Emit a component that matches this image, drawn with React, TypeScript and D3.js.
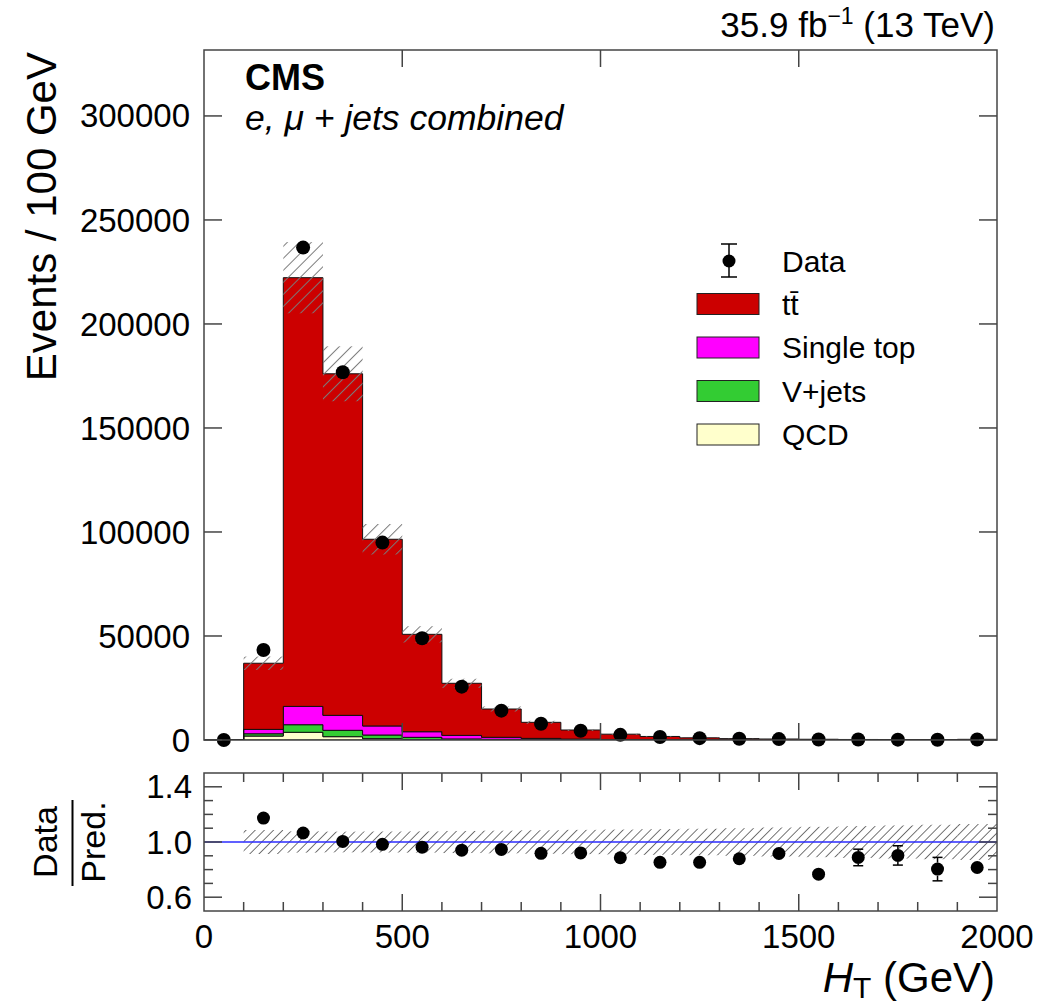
import React from "react";
import * as d3 from "d3";

// H_T bins, 100 GeV wide (lower edges)
const binLow = [0, 100, 200, 300, 400, 500, 600, 700, 800, 900, 1000, 1100, 1200, 1300, 1400, 1500, 1600, 1700, 1800, 1900];

// events / 100 GeV
const dataCounts = [0, 43300, 236700, 176800, 94900, 48900, 25640, 14100, 7800, 4420, 2480, 1450, 895, 580, 440, 276, 222, 167, 90, 269];
const ttbar = [0, 31800, 206100, 164200, 89750, 46820, 25040, 13600, 7730, 4365, 2547, 1547, 955, 599, 442, 332, 229, 170, 102, 302];
const singleTop = [0, 2100, 8800, 7200, 4350, 2700, 1700, 1000, 600, 340, 200, 120, 75, 48, 30, 22, 16, 12, 8, 22];
const vJets = [0, 1100, 3650, 3050, 1750, 1080, 420, 250, 140, 80, 45, 28, 17, 11, 7, 5, 4, 3, 2, 5];
const qcd = [0, 1900, 3700, 1600, 650, 200, 100, 50, 30, 15, 8, 5, 3, 2, 1, 1, 1, 0, 0, 1];

// relative uncertainty of the prediction, and data/pred. stat. error
const mcRelUnc = [0, 0.087, 0.077, 0.075, 0.076, 0.077, 0.08, 0.082, 0.085, 0.088, 0.09, 0.093, 0.096, 0.1, 0.105, 0.11, 0.115, 0.12, 0.125, 0.13];
const ratioErr = [0, 0.01, 0.005, 0.005, 0.005, 0.006, 0.008, 0.01, 0.013, 0.016, 0.02, 0.025, 0.03, 0.03, 0.035, 0.035, 0.06, 0.07, 0.085, 0.05];

const yTickValues = [0, 50000, 100000, 150000, 200000, 250000, 300000];
const xTickValues = [0, 500, 1000, 1500, 2000];
const ratioTickValues = [0.6, 1.0, 1.4];

const legendItems = [
  { label: "tt\u0304", color: "#cc0000" },
  { label: "Single top", color: "#ff00ff" },
  { label: "V+jets", color: "#33cc33" },
  { label: "QCD", color: "#ffffcc" },
];

const layerKeys = ["qcd", "vjets", "singletop", "ttbar"];
const layerColors: Record<string, string> = {
  qcd: "#ffffcc",
  vjets: "#33cc33",
  singletop: "#ff00ff",
  ttbar: "#cc0000",
};

const FONT = "'Liberation Sans', Arial, Helvetica, sans-serif";
const FRAME = "#444";

export default function App() {
  const W = 1040;
  const H = 1006;
  const left = 204, right = 997;
  const topY0 = 50, topY1 = 740;
  const rY0 = 773, rY1 = 911;
  const binW = 100;

  const x = d3.scaleLinear().domain([0, 2000]).range([left, right]);
  const y = d3.scaleLinear().domain([0, 331700]).range([topY1, topY0]);
  const yr = d3.scaleLinear().domain([0.5, 1.5]).range([rY1, rY0]);

  const rows = binLow.map((lo, i) => ({
    lo,
    qcd: qcd[i],
    vjets: vJets[i],
    singletop: singleTop[i],
    ttbar: ttbar[i],
  }));
  const total = rows.map((r) => r.qcd + r.vjets + r.singletop + r.ttbar);
  const series = d3.stack<any>().keys(layerKeys)(rows);

  const area = d3
    .area<any>()
    .x((p) => x(p.x))
    .y0((p) => y(p.y0))
    .y1((p) => y(p.y1));

  const layerPath = (s: any) =>
    area(
      s.flatMap((d: any) => [
        { x: d.data.lo, y0: d[0], y1: d[1] },
        { x: d.data.lo + binW, y0: d[0], y1: d[1] },
      ])
    );

  const yMinor = d3.range(0.6, 1.41, 0.1);
  const xMinor = d3.range(100, 2000, 100);
  const isMajorX = (v: number) => Math.abs(v % 500) < 1e-6;
  const isMajorR = (v: number) => ratioTickValues.some((t) => Math.abs(t - v) < 1e-6);

  const rTop = 7;
  const rRatio = 6.5;

  const errBar = (cx: number, cy: number, errPx: number, r: number, key: string) => {
    if (errPx <= r + 0.5) return null;
    return (
      <g key={key} stroke="#000" strokeWidth={1.5}>
        <line x1={cx} x2={cx} y1={cy - errPx} y2={cy - r} />
        <line x1={cx} x2={cx} y1={cy + r} y2={cy + errPx} />
        <line x1={cx - 5} x2={cx + 5} y1={cy - errPx} y2={cy - errPx} />
        <line x1={cx - 5} x2={cx + 5} y1={cy + errPx} y2={cy + errPx} />
      </g>
    );
  };

  return (
    <svg
      width={W}
      height={H}
      style={{ position: "absolute", left: 0, top: 0, display: "block", background: "#fff" }}
      fontFamily={FONT}
    >
      <defs>
        <pattern id="hatchTop" patternUnits="userSpaceOnUse" width={8.5} height={8.5} patternTransform="rotate(45)">
          <line x1={0} y1={0} x2={0} y2={8.5} stroke="#7a7a7a" strokeWidth={2} />
        </pattern>
        <pattern id="hatchRatio" patternUnits="userSpaceOnUse" width={6.5} height={6.5} patternTransform="rotate(45)">
          <line x1={0} y1={0} x2={0} y2={6.5} stroke="#666" strokeWidth={1.8} />
        </pattern>
        <clipPath id="clipTop">
          <rect x={left} y={topY0} width={right - left} height={topY1 - topY0} />
        </clipPath>
        <clipPath id="clipRatio">
          <rect x={left} y={rY0} width={right - left} height={rY1 - rY0} />
        </clipPath>
      </defs>

      {/* ---------- top panel ---------- */}
      <g clipPath="url(#clipTop)">
        {series.map((s: any) => (
          <path key={s.key} d={layerPath(s) || ""} fill={layerColors[s.key]} stroke="#111" strokeWidth={1} />
        ))}
        {binLow.map((lo, i) =>
          total[i] > 0 ? (
            <rect
              key={"u" + i}
              x={x(lo)}
              width={x(lo + binW) - x(lo)}
              y={y(total[i] * (1 + mcRelUnc[i]))}
              height={y(total[i] * (1 - mcRelUnc[i])) - y(total[i] * (1 + mcRelUnc[i]))}
              fill="url(#hatchTop)"
            />
          ) : null
        )}
      </g>
      {binLow.map((lo, i) => {
        const cx = x(lo + binW / 2);
        const cy = y(dataCounts[i]);
        const errPx = y(0) - y(ratioErr[i] * total[i]);
        return (
          <g key={"d" + i}>
            {errBar(cx, cy, errPx, rTop, "e" + i)}
            <circle cx={cx} cy={cy} r={rTop} fill="#000" />
          </g>
        );
      })}

      {/* frame + ticks (top) */}
      <rect x={left} y={topY0} width={right - left} height={topY1 - topY0} fill="none" stroke={FRAME} strokeWidth={1.5} />
      <g stroke={FRAME} strokeWidth={1.5}>
        {yTickValues.map((v) => (
          <g key={"yt" + v}>
            <line x1={left} x2={left + 18} y1={y(v)} y2={y(v)} />
            <line x1={right - 18} x2={right} y1={y(v)} y2={y(v)} />
          </g>
        ))}
        {xTickValues.slice(1, -1).map((v) => (
          <g key={"xt" + v}>
            <line x1={x(v)} x2={x(v)} y1={topY1} y2={topY1 - 17} />
            <line x1={x(v)} x2={x(v)} y1={topY0} y2={topY0 + 17} />
          </g>
        ))}
      </g>
      <g fontSize={33} textAnchor="end" fill="#000">
        {yTickValues.map((v) => (
          <text key={"yl" + v} x={190} y={y(v)} dy="0.35em">
            {v}
          </text>
        ))}
      </g>

      <text x={56} y={52} transform="rotate(-90 56 52)" textAnchor="end" fontSize={42} fill="#000">
        Events / 100 GeV
      </text>

      <text x={995} y={37} textAnchor="end" fontSize={35} fill="#000">
        35.9 fb
        <tspan fontSize={23} dy={-13}>
          −1
        </tspan>
        <tspan dy={13}> (13 TeV)</tspan>
      </text>

      <text x={245} y={90} fontSize={36} fontWeight="bold" fill="#000">
        CMS
      </text>
      <text x={245} y={130} fontSize={35.5} fontStyle="italic" fill="#000">
        e, μ + jets combined
      </text>

      {/* legend */}
      <g>
        <g stroke="#000" strokeWidth={1.5}>
          <line x1={729} x2={729} y1={244} y2={277} />
          <line x1={721} x2={737} y1={244} y2={244} />
          <line x1={721} x2={737} y1={277} y2={277} />
        </g>
        <circle cx={729} cy={261} r={6.5} fill="#000" />
        <text x={782} y={261} dy="0.35em" fontSize={30} fill="#000">
          Data
        </text>
        {legendItems.map((it, i) => {
          const cy = 304 + i * 43.5;
          return (
            <g key={it.label}>
              <rect x={697} y={cy - 10.5} width={62} height={21} fill={it.color} stroke="#222" strokeWidth={1} />
              <text x={782} y={cy} dy="0.35em" fontSize={30} fill="#000">
                {it.label}
              </text>
            </g>
          );
        })}
      </g>

      {/* ---------- ratio panel ---------- */}
      <g clipPath="url(#clipRatio)">
        {binLow.map((lo, i) =>
          total[i] > 0 ? (
            <rect
              key={"ru" + i}
              x={x(lo)}
              width={x(lo + binW) - x(lo)}
              y={yr(1 + mcRelUnc[i])}
              height={yr(1 - mcRelUnc[i]) - yr(1 + mcRelUnc[i])}
              fill="url(#hatchRatio)"
            />
          ) : null
        )}
        <line x1={left} x2={right} y1={yr(1)} y2={yr(1)} stroke="#2b2bff" strokeWidth={1.3} />
      </g>
      {binLow.map((lo, i) => {
        if (total[i] <= 0) return null;
        const cx = x(lo + binW / 2);
        const ratio = dataCounts[i] / total[i];
        const cy = yr(ratio);
        const errPx = yr(1) - yr(1 + ratioErr[i]);
        return (
          <g key={"r" + i}>
            {errBar(cx, cy, errPx, rRatio, "re" + i)}
            <circle cx={cx} cy={cy} r={rRatio} fill="#000" />
          </g>
        );
      })}

      <rect x={left} y={rY0} width={right - left} height={rY1 - rY0} fill="none" stroke={FRAME} strokeWidth={1.5} />
      <g stroke={FRAME} strokeWidth={1.5}>
        {xMinor.map((v) => {
          const len = isMajorX(v) ? 17 : 9;
          return (
            <g key={"rx" + v}>
              <line x1={x(v)} x2={x(v)} y1={rY1} y2={rY1 - len} />
              <line x1={x(v)} x2={x(v)} y1={rY0} y2={rY0 + len} />
            </g>
          );
        })}
        {yMinor.map((v) => {
          const len = isMajorR(v) ? 18 : 9;
          return (
            <g key={"ry" + v.toFixed(1)}>
              <line x1={left} x2={left + len} y1={yr(v)} y2={yr(v)} />
              <line x1={right - len} x2={right} y1={yr(v)} y2={yr(v)} />
            </g>
          );
        })}
      </g>
      <g fontSize={33} fill="#000">
        {ratioTickValues.map((v) => (
          <text key={"rl" + v} x={192} y={yr(v)} dy="0.35em" textAnchor="end">
            {v.toFixed(1)}
          </text>
        ))}
        {xTickValues.map((v) => (
          <text key={"xl" + v} x={x(v)} y={948} textAnchor="middle">
            {v}
          </text>
        ))}
      </g>

      {/* ratio y title: Data / Pred. */}
      <g fontSize={34} fill="#000">
        <text x={57} y={842} transform="rotate(-90 57 842)" textAnchor="middle">
          Data
        </text>
        <line x1={72.5} x2={72.5} y1={800} y2={886} stroke="#000" strokeWidth={2} />
        <text x={105} y={842} transform="rotate(-90 105 842)" textAnchor="middle">
          Pred.
        </text>
      </g>

      <text x={995} y={992} textAnchor="end" fontSize={42} fill="#000">
        <tspan fontStyle="italic">H</tspan>
        <tspan fontSize={30} dy={6}>
          T
        </tspan>
        <tspan dy={-6}> (GeV)</tspan>
      </text>
    </svg>
  );
}
